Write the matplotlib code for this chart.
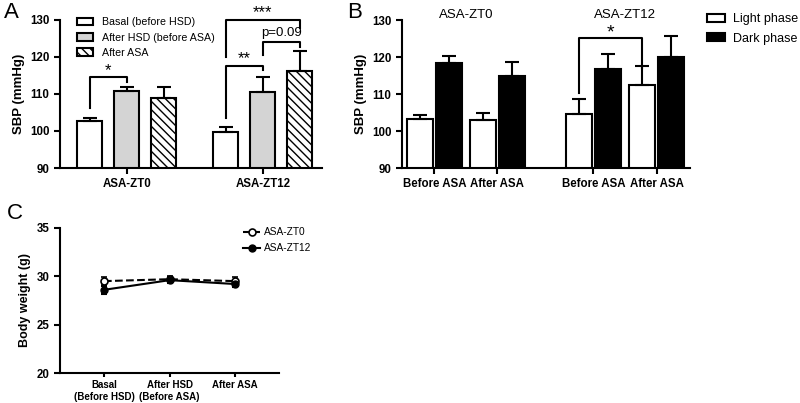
import numpy as np
import matplotlib
matplotlib.use("Agg")
import matplotlib.pyplot as plt

plt.rcParams['font.family'] = ['Liberation Sans', 'DejaVu Sans']
plt.rcParams['hatch.linewidth'] = 1.0

# Panel A data (SBP, mmHg)
groupsA = ["ASA-ZT0", "ASA-ZT12"]
condsA = ["Basal (before HSD)", "After HSD (before ASA)", "After ASA"]
meanA = [[102.8, 110.8, 109.0], [99.6, 110.5, 116.2]]
errA = [[0.7, 1.1, 2.8], [1.4, 4.1, 5.3]]

# Panel B data (SBP, mmHg)
groupsB = ["ASA-ZT0", "ASA-ZT12"]
ticksB = ["Before ASA", "After ASA", "Before ASA", "After ASA"]
lightB = [103.3, 103.0, 104.7, 112.5]
lightErrB = [1.0, 2.0, 4.0, 5.0]
darkB = [118.5, 115.0, 116.7, 120.0]
darkErrB = [1.8, 3.8, 4.1, 5.7]

# Panel C data (body weight, g)
condsC = ["Basal\n(Before HSD)", "After HSD\n(Before ASA)", "After ASA"]
zt0C = [29.5, 29.7, 29.5]
zt0ErrC = [0.4, 0.3, 0.4]
zt12C = [28.6, 29.6, 29.2]
zt12ErrC = [0.4, 0.3, 0.3]

fig = plt.figure(figsize=(8, 4.03), dpi=100)
LW = 1.5

def style(ax, fs=8.3):
    for s in ["top", "right"]:
        ax.spines[s].set_visible(False)
    for s in ["left", "bottom"]:
        ax.spines[s].set_linewidth(LW)
    ax.tick_params(width=LW, length=4, labelsize=fs)
    for lab in ax.get_xticklabels() + ax.get_yticklabels():
        lab.set_fontweight("bold")

def bracket(ax, x1, x2, y, yl, yr, text, ty, fs=10):
    ax.plot([x1, x1, x2, x2], [yl, y, y, yr], color="black", lw=LW, clip_on=False)
    ax.text((x1 + x2) / 2, ty, text, ha="center", va="center", fontsize=fs, clip_on=False)

# ---------- Panel A ----------
axA = fig.add_axes([0.075, 0.583, 0.3275, 0.368])
posA = [[0, 1, 2], [3.68, 4.68, 5.68]]
colsA = ["white", "#d4d4d4", "white"]
hatchA = [None, None, "\\\\\\\\"]
handles = []
for g in range(2):
    for c in range(3):
        b = axA.bar(posA[g][c], meanA[g][c], width=0.68, color=colsA[c], edgecolor="black",
                    linewidth=LW, hatch=hatchA[c], bottom=0)
        axA.errorbar(posA[g][c], meanA[g][c], yerr=[[0], [errA[g][c]]], color="black",
                     capsize=5, elinewidth=LW, capthick=LW)
        if g == 0:
            handles.append(b)
axA.set_ylim(90, 130)
axA.set_xlim(-0.8, 6.28)
axA.set_yticks([90, 100, 110, 120, 130])
axA.set_xticks([1, 4.68])
axA.set_xticklabels(groupsA)
axA.tick_params(axis="x", length=0)
axA.set_ylabel("SBP (mmHg)", fontsize=9.5, fontweight="bold")
style(axA)
axA.legend(handles, condsA, loc="upper left", bbox_to_anchor=(0.029, 1.082), frameon=False,
           fontsize=7.7, handlelength=1.5, handleheight=0.75, labelspacing=0.5, handletextpad=0.85)
bracket(axA, 0, 1, 114.5, 106.2, 113.2, "*", 116.3, fs=12)
bracket(axA, 3.68, 4.68, 117.6, 103.5, 116.4, "**", 119.6, fs=12)
bracket(axA, 3.68, 5.68, 129.9, 120, 127.7, "***", 131.8, fs=12)
bracket(axA, 4.68, 5.68, 124.0, 120.4, 122.7, "p=0.09", 126.4, fs=9.5)

# ---------- Panel B ----------
axB = fig.add_axes([0.5025, 0.583, 0.36, 0.367])
pairsB = [0, 2.17, 5.48, 7.66]
for i, p in enumerate(pairsB):
    bl = axB.bar(p, lightB[i], width=0.9, color="white", edgecolor="black", linewidth=LW)
    axB.errorbar(p, lightB[i], yerr=[[0], [lightErrB[i]]], color="black", capsize=5,
                 elinewidth=LW, capthick=LW)
    bd = axB.bar(p + 1, darkB[i], width=0.9, color="black", edgecolor="black", linewidth=LW)
    axB.errorbar(p + 1, darkB[i], yerr=[[0], [darkErrB[i]]], color="black", capsize=5,
                 elinewidth=LW, capthick=LW)
axB.set_ylim(90, 130)
axB.set_xlim(-0.62, 9.31)
axB.set_yticks([90, 100, 110, 120, 130])
axB.set_xticks([p + 0.5 for p in pairsB])
axB.set_xticklabels(ticksB)
axB.tick_params(axis="x", length=0)
axB.set_ylabel("SBP (mmHg)", fontsize=9.5, fontweight="bold")
style(axB)
axB.text(pairsB[0] + 1.6, 131.4, groupsB[0], ha="center", va="center", fontsize=9.5)
axB.text(pairsB[2] + 1.6, 131.4, groupsB[1], ha="center", va="center", fontsize=9.5)
axB.legend([bl, bd], ["Light phase", "Dark phase"], loc="upper left", bbox_to_anchor=(1.043, 1.081),
           borderaxespad=0, frameon=False, fontsize=9.0, handlelength=1.44, handleheight=0.65,
           labelspacing=0.6, handletextpad=0.6)
bracket(axB, pairsB[2], pairsB[3], 125.2, 110.3, 117.0, "*", 126.6, fs=14)

# ---------- Panel C ----------
axC = fig.add_axes([0.075, 0.0744, 0.274, 0.36])
xC = np.arange(len(condsC))
e0 = axC.errorbar(xC, zt0C, yerr=zt0ErrC, color="black", ls="--", lw=LW, marker="o", ms=5,
                  mfc="white", mec="black", mew=1.2, capsize=2.5, elinewidth=LW, capthick=LW)
e12 = axC.errorbar(xC, zt12C, yerr=zt12ErrC, color="black", ls="-", lw=LW, marker="o", ms=5,
                   mfc="black", capsize=2.5, elinewidth=LW, capthick=LW)
axC.set_ylim(20, 35)
axC.set_xlim(-0.67, 2.67)
axC.set_yticks([20, 25, 30, 35])
axC.set_xticks(xC)
axC.set_xticklabels(condsC)
axC.set_ylabel("Body weight (g)", fontsize=9, fontweight="bold")
style(axC)
axC.tick_params(axis="x", labelsize=7, length=3, pad=2)
axC.legend([e0[0], e12[0]], ["ASA-ZT0", "ASA-ZT12"], loc="upper left", bbox_to_anchor=(0.794, 1.069),
           frameon=False, fontsize=7.3, handlelength=1.7, labelspacing=0.6, handletextpad=0.4)

fig.text(0.005, 0.969, "A", fontsize=16, va="center")
fig.text(0.434, 0.969, "B", fontsize=16, va="center")
fig.text(0.008, 0.47, "C", fontsize=16, va="center")

fig.savefig("out.png", dpi=100)
